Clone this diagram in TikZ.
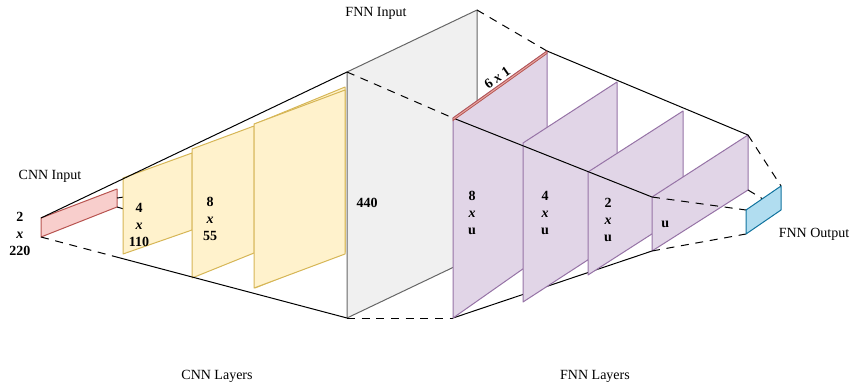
\documentclass[tikz,border=0pt]{standalone}
\usepackage{fontspec}
\setmainfont{Liberation Serif}
\usetikzlibrary{calc}
\definecolor{cnnFill}{HTML}{FFF2CC}
\definecolor{cnnDraw}{HTML}{D6B656}
\definecolor{fnnFill}{HTML}{E1D5E7}
\definecolor{fnnDraw}{HTML}{9673A6}
\definecolor{inFill}{HTML}{F8CECC}
\definecolor{inDraw}{HTML}{B85450}
\definecolor{outFill}{HTML}{B1DDF0}
\definecolor{outDraw}{HTML}{10739E}
\definecolor{flatFill}{HTML}{F0F0F0}
\definecolor{flatDraw}{HTML}{666666}

\begin{document}
\begin{tikzpicture}[x=0.75pt, y=-0.75pt,
		every node/.style={font=\fontsize{10.5}{13}\selectfont},
		dimlbl/.style={font=\fontsize{10.5}{13}\selectfont\bfseries, align=center, inner sep=0pt},
		plane/.style={line width=0.75pt, line join=round},
		conn/.style={black, line width=0.75pt},
		hidden/.style={conn, dash pattern=on 6pt off 5pt}]
		\useasboundingbox (0,0) rectangle (850,390);

		% CNN input
		\draw[plane, fill=inFill, draw=inDraw] (41,218) coordinate (in-tl) -- (117,189) coordinate (in-tr)
			-- (117,207) coordinate (in-br) -- (41,237) coordinate (in-bl) -- cycle;
		\coordinate (in-r) at ($(in-tr)!0.5!(in-br)$);
		\coordinate (y1-a) at (124,197);
		\coordinate (y1-b) at (124,209);
		\draw[conn] (in-r) -- (y1-a);
		\draw[conn] (in-br) -- (y1-b);

		\foreach \nm/\xl/\tl/\bl/\xr/\tr/\br in {
			y1/123/178/254/192/153/230,
			y2/192/149/278/254/126/253,
			y3b/255/124/288/345/87/252,
			y3/254/124/288/345/90/254
		 }{
			\draw[plane, fill=cnnFill, draw=cnnDraw] (\xl,\tl) coordinate (\nm-tl) -- (\xr,\tr) coordinate (\nm-tr)
				-- (\xr,\br) coordinate (\nm-br) -- (\xl,\bl) coordinate (\nm-bl) -- cycle;
		 }

		% flattened vector
		\draw[plane, fill=flatFill, draw=flatDraw] (347,72) coordinate (fl-tl) -- (477,10) coordinate (fl-tr)
			-- (477,256) coordinate (fl-br) -- (347,318) coordinate (fl-bl) -- cycle;

		\coordinate (cnnbot) at ($(in-bl)!0.235!(fl-bl)$);
		\draw[conn] (in-tl) -- (fl-tl);
		\draw[hidden] (in-bl) -- (cnnbot);
		\draw[conn] (cnnbot) -- (fl-bl);

		\coordinate (p1-tl) at (453,118);
		\coordinate (p1-tr) at (547,51);
		\coordinate (p1-bl) at (453,318);
		\coordinate (p4-bl) at (652,251);
		\draw[hidden] (fl-tl) -- (p1-tl);
		\draw[hidden] (fl-tr) -- (p1-tr);
		\draw[hidden] (fl-bl) -- (p1-bl);
		\draw[conn] (p1-bl) -- (p4-bl);

		\foreach \nm/\xl/\tl/\bl/\xr/\tr/\br in {
			p1/453/118/318/547/51/252,
			p2/523/143/302/617/82/241,
			p3/588/172/275/683/111/214,
			p4/652/197/251/748/135/190
		 }{
			\draw[plane, fill=fnnFill, draw=fnnDraw] (\xl,\tl) coordinate (\nm-tl) -- (\xr,\tr) coordinate (\nm-tr)
				-- (\xr,\br) coordinate (\nm-br) -- (\xl,\bl) coordinate (\nm-bl) -- cycle;
		 }
		\draw[conn] (p1-tl) -- (p4-tl);
		\draw[conn] (p1-tr) -- (p4-tr);

		% 6 x 1 strip
		\draw[line width=0.6pt, fill=inFill!70!inDraw, draw=inDraw] (p1-tl) -- (p1-tr) -- ++(0,2.5) -- ($(p1-tl)+(0,2.5)$) -- cycle;
		\node[dimlbl, rotate=35, anchor=south] (strip) at ($(p1-tl)!0.5!(p1-tr)+(0,-3)$) {6 \textit{x} 1};

		% FNN output
		\coordinate (out-tl) at (746,210);
		\coordinate (out-tr) at (781,186);
		\coordinate (out-br) at (781,210);
		\coordinate (out-bl) at (746,234);
		\draw[hidden] (p4-tl) -- (out-tl);
		\draw[hidden] (p4-tr) -- (out-tr);
		\draw[hidden] (p4-br) -- (out-br);
		\draw[hidden] (p4-bl) -- (out-bl);
		\draw[plane, fill=outFill, draw=outDraw] (out-tl) -- (out-tr) -- (out-br) -- (out-bl) -- cycle;

		\foreach \x/\y/\alph/\name in {
			20/234/d0/{2\\\textit{x}\\220},
			139/225/d1/{4\\\textit{x}\\110},
			210/219/d2/{8\\\textit{x}\\55},
			367/203/d3/{440},
			472/213/d4/{8\\\textit{x}\\u},
			545/213/d5/{4\\\textit{x}\\u},
			608/220/d6/{2\\\textit{x}\\u},
			667/224/d7/{u}
		 }{
			\node[dimlbl] (\alph) at (\x,\y) {\name};
		 }

		\node (cnnin) at (50,176) {CNN Input};
		\node (fnnin) at (376,13) {FNN Input};
		\node (fnnout) at (814,234) {FNN Output};
		\node (cnnlay) at (217,376) {CNN Layers};
		\node (fnnlay) at (595,376) {FNN Layers};
	\end{tikzpicture}
\end{document}
